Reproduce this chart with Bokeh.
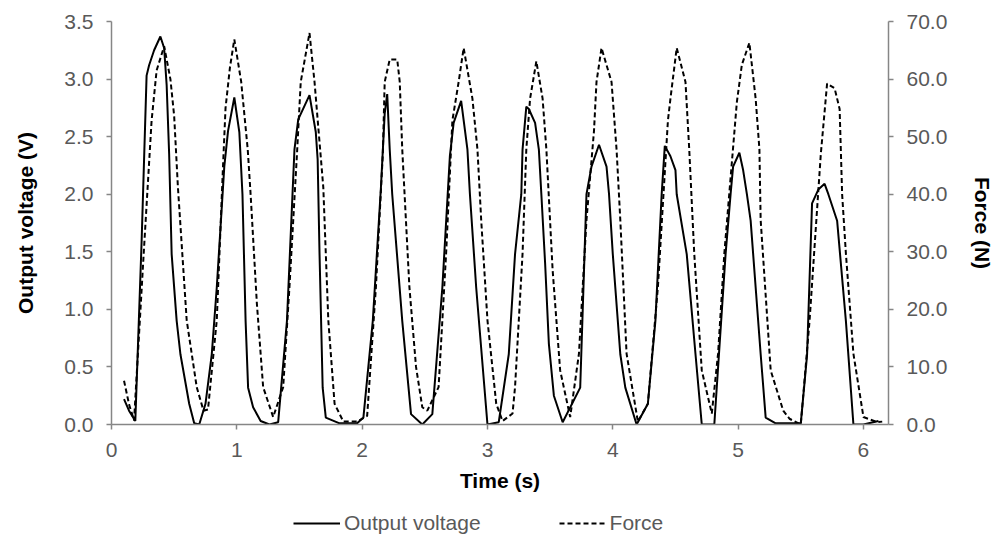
from bokeh.plotting import figure
from bokeh.layouts import column
from bokeh.models import Range1d, LinearAxis, Legend, LegendItem, FixedTicker, NumeralTickFormatter
from bokeh.embed import file_html
from bokeh.resources import INLINE

# ---- data ----
voltage_time = [0.10, 0.14, 0.19, 0.24, 0.28, 0.30, 0.34, 0.39, 0.42, 0.44, 0.46, 0.48, 0.52, 0.55, 0.62,
                0.66, 0.70, 0.75, 0.80, 0.84, 0.90, 0.93, 0.98, 1.02, 1.045, 1.07, 1.09, 1.13, 1.19, 1.26,
                1.33, 1.40, 1.46, 1.49, 1.58, 1.63, 1.645, 1.66, 1.685, 1.71, 1.82, 1.96, 2.01, 2.085, 2.15,
                2.18, 2.20, 2.22, 2.24, 2.32, 2.39, 2.48, 2.56, 2.64, 2.70, 2.73, 2.79, 2.84, 2.86, 2.91,
                3.00, 3.09, 3.17, 3.22, 3.27, 3.28, 3.31, 3.33, 3.38, 3.41, 3.43, 3.46, 3.49, 3.53, 3.60,
                3.74, 3.79, 3.83, 3.89, 3.95, 3.97, 4.00, 4.06, 4.10, 4.19, 4.28, 4.34, 4.39, 4.415, 4.46,
                4.50, 4.51, 4.59, 4.66, 4.71, 4.81, 4.90, 4.94, 4.96, 5.01, 5.04, 5.07, 5.10, 5.18, 5.22,
                5.30, 5.50, 5.55, 5.59, 5.64, 5.69, 5.72, 5.79, 5.86, 5.92, 6.00, 6.12]
voltage = [0.22, 0.12, 0.03, 1.58, 3.03, 3.12, 3.25, 3.37, 3.27, 2.95, 2.35, 1.48, 0.90, 0.61, 0.18,
           0.01, 0.00, 0.18, 0.61, 1.19, 2.24, 2.55, 2.84, 2.54, 2.00, 0.90, 0.32, 0.15, 0.03, 0.00,
           0.02, 0.90, 2.39, 2.65, 2.86, 2.54, 2.30, 1.48, 0.32, 0.06, 0.01, 0.01, 0.06, 0.90, 2.06,
           2.70, 2.87, 2.39, 2.00, 0.90, 0.09, 0.00, 0.09, 1.19, 2.33, 2.62, 2.81, 2.39, 2.00, 1.19,
           0.00, 0.02, 0.61, 1.48, 2.00, 2.39, 2.76, 2.74, 2.62, 2.39, 2.00, 1.40, 0.70, 0.25, 0.02,
           0.32, 2.00, 2.24, 2.43, 2.24, 2.00, 1.48, 0.61, 0.32, 0.00, 0.18, 0.90, 2.00, 2.42, 2.33,
           2.21, 2.00, 1.48, 0.61, 0.00, 0.00, 1.48, 2.00, 2.24, 2.36, 2.21, 2.00, 1.77, 0.61, 0.06,
           0.01, 0.01, 0.60, 1.92, 2.04, 2.09, 2.00, 1.77, 0.90, 0.00, 0.00, 0.03]

force_time = [0.10, 0.14, 0.18, 0.257, 0.32, 0.36, 0.42, 0.47, 0.50, 0.53, 0.60, 0.68, 0.734, 0.77, 0.84,
              0.89, 0.91, 0.945, 0.98, 1.035, 1.087, 1.11, 1.16, 1.21, 1.29, 1.37, 1.42, 1.48, 1.51, 1.58,
              1.62, 1.69, 1.73, 1.78, 1.85, 1.96, 2.04, 2.11, 2.165, 2.18, 2.22, 2.28, 2.30, 2.32, 2.377,
              2.43, 2.48, 2.52, 2.61, 2.67, 2.72, 2.77, 2.81, 2.88, 2.92, 2.95, 3.00, 3.07, 3.12, 3.20,
              3.22, 3.28, 3.31, 3.34, 3.39, 3.44, 3.47, 3.52, 3.58, 3.66, 3.73, 3.79, 3.85, 3.87, 3.91,
              3.99, 4.03, 4.06, 4.11, 4.20, 4.28, 4.36, 4.44, 4.46, 4.51, 4.58, 4.61, 4.65, 4.71, 4.79,
              4.84, 4.89, 4.99, 5.03, 5.09, 5.14, 5.17, 5.18, 5.26, 5.36, 5.41, 5.50, 5.57, 5.66, 5.71,
              5.77, 5.81, 5.83, 5.86, 5.92, 6.00, 6.11, 6.15]
force = [7.6, 3.5, 0.7, 29.7, 52.8, 61.5, 65.7, 60.0, 53.6, 41.2, 18.1, 6.5, 2.4, 2.6, 18.1,
         45.0, 55.0, 62.0, 66.9, 59.5, 47.8, 40.0, 21.0, 6.5, 1.3, 6.5, 23.9, 47.0, 59.5, 68.0,
         59.5, 41.2, 18.1, 3.6, 0.5, 0.5, 1.5, 23.9, 47.0, 59.5, 63.4, 63.4, 59.5, 47.8, 23.9,
         10.0, 3.0, 2.4, 6.5, 29.7, 52.8, 59.5, 65.4, 56.6, 47.8, 35.5, 18.1, 3.6, 0.6, 1.9,
         6.5, 29.7, 47.8, 56.6, 63.1, 56.6, 47.8, 26.8, 9.4, 1.3, 12.3, 35.5, 51.0, 59.5, 65.4,
         59.5, 47.8, 35.5, 12.3, 0.5, 3.6, 23.9, 52.8, 56.6, 65.4, 59.5, 47.8, 29.7, 9.4, 1.9,
         12.3, 29.7, 56.0, 62.5, 66.3, 56.6, 47.8, 35.5, 9.4, 2.4, 1.0, 0.0, 18.0, 47.0, 59.2,
         58.4, 54.8, 40.0, 29.7, 12.3, 1.3, 0.4, 0.5]

x_ticks = [0, 1, 2, 3, 4, 5, 6]
voltage_ticks = [0.0, 0.5, 1.0, 1.5, 2.0, 2.5, 3.0, 3.5]
force_ticks = [0, 10, 20, 30, 40, 50, 60, 70]

FONT = "Liberation Sans"
TICK_COLOR = "#595959"
AXIS_COLOR = "#868686"

p = figure(width=997, height=500, x_range=Range1d(0, 6.2), y_range=Range1d(0, 3.5),
           output_backend="svg", toolbar_location=None,
           min_border_left=111, min_border_right=107, min_border_top=21, min_border_bottom=76)
p.extra_y_ranges = {"force": Range1d(0, 70)}
p.xgrid.visible = False
p.ygrid.visible = False
p.outline_line_color = None
p.background_fill_color = "white"
p.border_fill_color = "white"

p.line(voltage_time, voltage, line_color="black", line_width=2)
p.line(force_time, force, line_color="black", line_width=2, line_dash="5 3", y_range_name="force")

right = LinearAxis(y_range_name="force")
p.add_layout(right, "right")

def style(ax):
    ax.axis_line_color = AXIS_COLOR
    ax.axis_line_width = 1.5
    ax.major_tick_line_color = AXIS_COLOR
    ax.major_tick_line_width = 1.5
    ax.major_tick_out = 5
    ax.major_tick_in = 0
    ax.minor_tick_line_color = None
    ax.major_label_text_font = FONT
    ax.major_label_text_font_size = "21px"
    ax.major_label_text_color = TICK_COLOR
    ax.axis_label_text_font = FONT
    ax.axis_label_text_font_size = "21px"
    ax.axis_label_text_font_style = "bold"
    ax.axis_label_text_color = "black"

xa = p.xaxis[0]
ya = p.yaxis[0]
for ax in (xa, ya, right):
    style(ax)

xa.ticker = FixedTicker(ticks=x_ticks)
xa.axis_label = "Time (s)"
xa.major_label_standoff = 13
xa.axis_label_standoff = 9

ya.ticker = FixedTicker(ticks=voltage_ticks)
ya.formatter = NumeralTickFormatter(format="0.0")
ya.axis_label = "Output voltage (V)"
ya.major_label_standoff = 13
ya.axis_label_standoff = 24

right.ticker = FixedTicker(ticks=force_ticks)
right.formatter = NumeralTickFormatter(format="0.0")
right.axis_label = "Force (N)"
right.major_label_standoff = 13
right.axis_label_standoff = 21

# legend strip below the chart (its lines use the same data, kept outside the strip's view)
lg = figure(width=997, height=36, x_range=Range1d(0, 6.2), y_range=Range1d(100, 101),
            output_backend="svg", toolbar_location=None, min_border=0,
            x_axis_location=None, y_axis_location=None)
lg.xgrid.visible = False
lg.ygrid.visible = False
lg.outline_line_color = None
lg_v = lg.line(voltage_time, voltage, line_color="black", line_width=2)
lg_f = lg.line(force_time, force, line_color="black", line_width=2, line_dash="5 3")
legend = Legend(items=[LegendItem(label="Output voltage", renderers=[lg_v]),
                       LegendItem(label="Force", renderers=[lg_f])],
                orientation="horizontal", location=(182, 1),
                glyph_width=47, glyph_height=20, spacing=78, label_standoff=4,
                label_text_font=FONT, label_text_font_size="21px", label_text_color=TICK_COLOR,
                border_line_color=None, background_fill_alpha=0, padding=0, margin=0)
lg.add_layout(legend, "center")

layout = column(p, lg, spacing=0)
open("out.html", "w").write(file_html(layout, INLINE))
